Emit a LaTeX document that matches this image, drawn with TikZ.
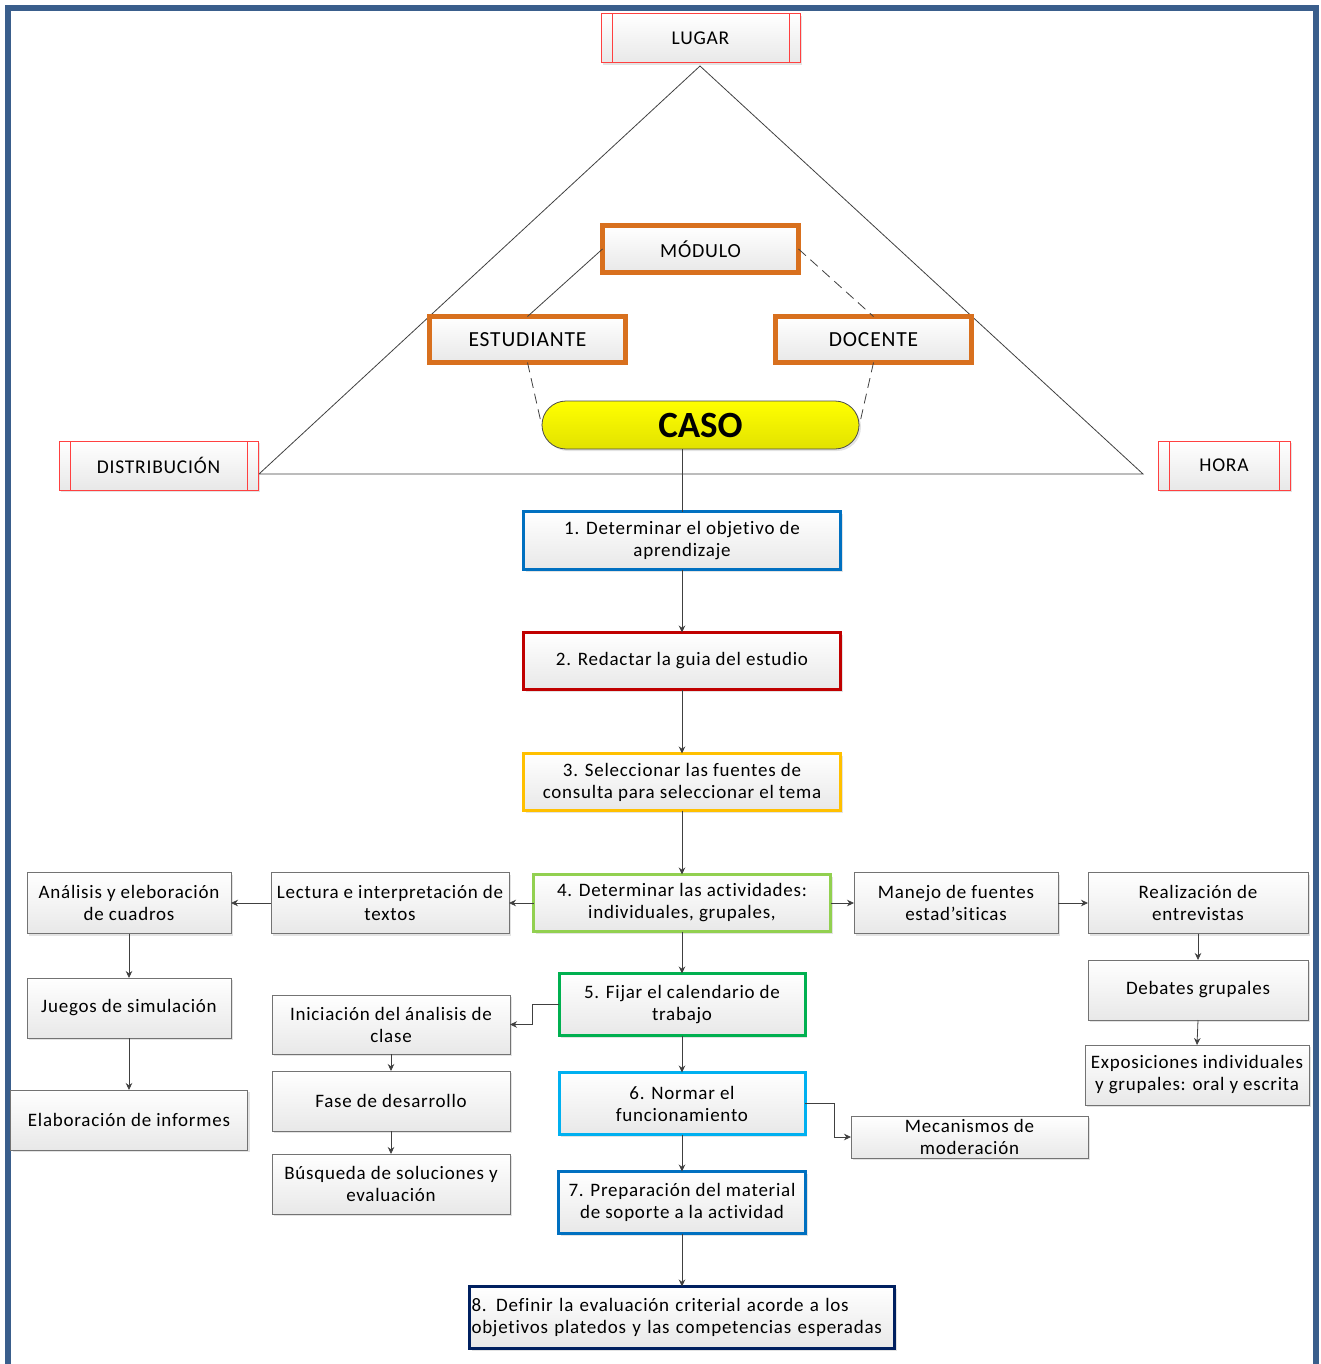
\documentclass[tikz,border=0pt]{standalone}
\usepackage{fontspec}
\setmainfont{Carlito}[LetterSpace=4, Ligatures=NoCommon]
\newfontfamily\casofont{Carlito}[BoldFont={* Bold}, Ligatures=NoCommon]
\usetikzlibrary{arrows.meta,shadows,calc}
\definecolor{frameblue}{HTML}{3A5E8C}
\definecolor{orng}{HTML}{D8701E}
\definecolor{stepblue}{HTML}{0070C0}
\definecolor{stepred}{HTML}{C00000}
\definecolor{stepgold}{HTML}{FFC000}
\definecolor{steplime}{HTML}{92D050}
\definecolor{stepgreen}{HTML}{00B050}
\definecolor{stepsky}{HTML}{00B0F0}
\definecolor{stepnavy}{HTML}{002060}
\definecolor{linegray}{HTML}{404040}
\definecolor{casoyellow}{HTML}{FFFF00}
\definecolor{casobottom}{HTML}{E2E200}
\begin{document}
\begin{tikzpicture}[x=1pt,y=-1pt,
  font=\fontsize{19}{22}\selectfont,
  box/.style={rectangle, top color=white, bottom color=black!9, align=center,
    inner sep=2pt, outer sep=0pt,
    drop shadow={opacity=0.22, shadow xshift=2pt, shadow yshift=-2pt}},
  gbox/.style={box, draw=black!55, line width=0.8pt},
  cbox/.style={box, line width=3pt},
  obox/.style={box, draw=orng, line width=5pt, font=\fontsize{21.5}{24}\selectfont},
  pbox/.style={box, draw=red!75, line width=1pt, font=\fontsize{19.5}{22}\selectfont,
    path picture={
      \draw[red!75, line width=1pt]
        ([xshift=11pt]path picture bounding box.north west) --
        ([xshift=11pt]path picture bounding box.south west)
        ([xshift=-11pt]path picture bounding box.north east) --
        ([xshift=-11pt]path picture bounding box.south east);}},
  link/.style={draw=linegray, line width=0.8pt},
  arr/.style={link, -{Stealth[length=7pt,width=6.5pt]}},
  dlink/.style={link, dash pattern=on 10pt off 6pt},
]
\useasboundingbox (0,0) rectangle (1321,1364);

% page frame
\draw[frameblue, line width=6pt] (8,1364) -- (8,8) -- (1316,8) -- (1316,1364);

% triangle place / distribution / time
\coordinate (apex) at (700,66);
\coordinate (baseL) at (259,474);
\coordinate (baseR) at (1143,474);
\draw[link] (apex) -- (baseL) -- (baseR) -- cycle;

% corner labels
\node[pbox, minimum width=199, minimum height=49] (lug) at (700.5,38.5) {LUGAR};
\node[pbox, minimum width=199, minimum height=49] (dist) at (158.5,465.5) {DISTRIBUCIÓN};
\node[pbox, minimum width=132, minimum height=49] (hora) at (1224,465.5) {HORA};

% actors
\node[obox, minimum width=196, minimum height=46, font=\fontsize{20}{24}\selectfont] (mod) at (700.5,249) {MÓDULO};
\node[obox, minimum width=196, minimum height=46] (est) at (527.5,339.5) {ESTUDIANTE};
\node[obox, minimum width=196, minimum height=46] (doc) at (873.5,339.5) {DOCENTE};

% case
\node[rectangle, rounded corners=24pt, top color=casoyellow, bottom color=casobottom,
  draw=black!70, line width=0.8pt, minimum width=317, minimum height=48,
  drop shadow={opacity=0.22, shadow xshift=2pt, shadow yshift=-2pt},
  font=\casofont\bfseries\fontsize{37}{38}\selectfont] (caso) at (700.5,425) {CASO};

\draw[link] (mod.west) -- (est.north);
\draw[dlink] (mod.east) -- (doc.north);
\draw[dlink] (est.south) -- (caso.west);
\draw[dlink] (doc.south) -- (caso.east);

% main steps
\node[cbox, draw=stepblue, minimum width=317, minimum height=58] (b1) at (682,540.5)
  {1. Determinar el objetivo de\\aprendizaje};
\node[cbox, draw=stepred, minimum width=317, minimum height=57] (b2) at (682,661)
  {2. Redactar la guia del estudio};
\node[cbox, draw=stepgold, minimum width=317, minimum height=57] (b3) at (682,782)
  {3. Seleccionar las fuentes de\\consulta para seleccionar el tema};
\node[cbox, draw=steplime, minimum width=297, minimum height=57] (b4) at (682,903)
  {4. Determinar las actividades:\\individuales, grupales,};
\node[cbox, draw=stepgreen, minimum width=246, minimum height=62] (b5) at (682,1004.5)
  {5. Fijar el calendario de\\trabajo};
\node[cbox, draw=stepsky, minimum width=246, minimum height=62] (b6) at (682,1103.5)
  {6. Normar el\\funcionamiento};
\node[cbox, draw=stepblue, minimum width=247, minimum height=62] (b7) at (682,1202.5)
  {7. Preparación del material\\de soporte a la actividad};
\node[cbox, draw=stepnavy, minimum width=425, minimum height=62, align=left,
  text width=421pt, inner xsep=1pt] (b8) at (682,1317.5)
  {8. Definir la evaluación criterial acorde a los\\objetivos platedos y las competencias esperadas};

% activities
\node[gbox, minimum width=238, minimum height=61] (lec) at (390,903)
  {Lectura e interpretación de\\textos};
\node[gbox, minimum width=204, minimum height=61] (ana) at (129,903)
  {Análisis y eleboración\\de cuadros};
\node[gbox, minimum width=204, minimum height=60] (jue) at (129,1008)
  {Juegos de simulación};
\node[gbox, minimum width=237, minimum height=60] (ela) at (129,1120)
  {Elaboración de informes};
\node[gbox, minimum width=204, minimum height=61] (man) at (956,903)
  {Manejo de fuentes\\estad’siticas};
\node[gbox, minimum width=220, minimum height=61] (rea) at (1198,903)
  {Realización de\\entrevistas};
\node[gbox, minimum width=220, minimum height=60] (deb) at (1198,990)
  {Debates grupales};
\node[gbox, minimum width=224, minimum height=60] (exp) at (1197,1075)
  {Exposiciones individuales\\y grupales: oral y escrita};
\node[gbox, minimum width=238, minimum height=59] (ini) at (391,1024.5)
  {Iniciación del ánalisis de\\clase};
\node[gbox, minimum width=238, minimum height=60] (fas) at (391,1101)
  {Fase de desarrollo};
\node[gbox, minimum width=238, minimum height=60] (bus) at (391,1184)
  {Búsqueda de soluciones y\\evaluación};
\node[gbox, minimum width=237, minimum height=42] (mec) at (969.5,1137)
  {Mecanismos de\\moderación};

% connectors
\draw[link] (b1.north |- caso.south) -- (b1.north);
\draw[arr] (b1) -- (b2);
\draw[arr] (b2) -- (b3);
\draw[arr] (b3) -- (b4);
\draw[arr] (b4) -- (b5);
\draw[arr] (b5) -- (b6);
\draw[arr] (b6) -- (b7);
\draw[arr] (b7) -- (b8);

\draw[arr] (b4.west) -- (lec.east);
\draw[arr] (lec.west) -- (ana.east);
\draw[arr] (ana.south) -- (jue.north);
\draw[arr] (jue.south) -- (ela.north);

\draw[arr] (b4.east) -- (man.west);
\draw[arr] (man.east) -- (rea.west);
\draw[arr] (rea.south) -- (deb.north);
\draw[arr] (deb.south) -- (exp.north);

\draw[arr] (b5.west) -- ++(-27,0) |- (ini.east);
\draw[arr] (ini.south) -- (fas.north);
\draw[arr] (fas.south) -- (bus.north);

\draw[arr] (b6.east) -- ++(29,0) |- (mec.west);
\end{tikzpicture}
\end{document}
